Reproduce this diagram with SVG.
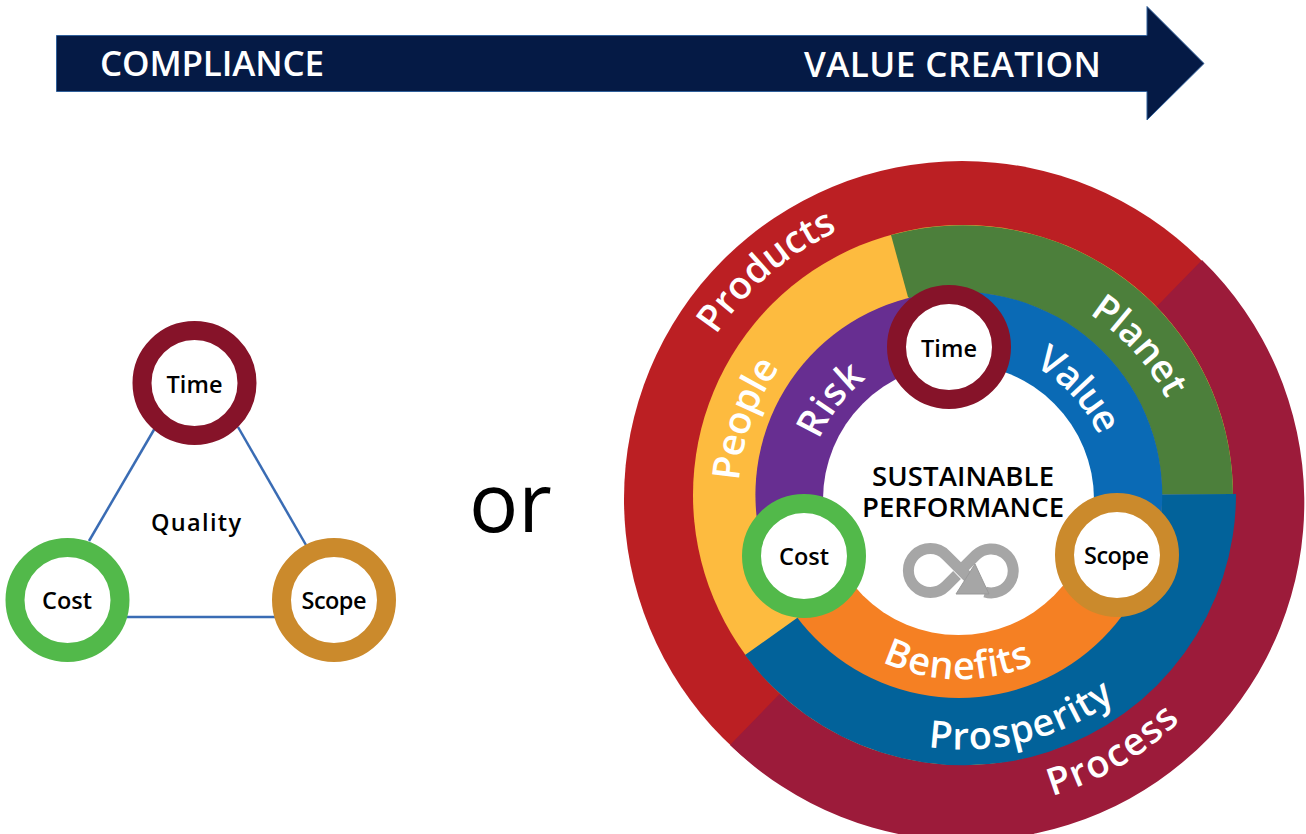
<svg xmlns="http://www.w3.org/2000/svg" width="1306" height="834" viewBox="0 0 1306 834">
<style>
text{font-family:"Open Sans","Liberation Sans",sans-serif}
.node{font-size:23.500px;font-weight:600;fill:#000;text-anchor:middle}
.band{font-size:38px;font-weight:600;fill:#fff}
.banner{font-size:35px;font-weight:600;fill:#fff}
.center{font-size:27.500px;font-weight:600;fill:#000;text-anchor:middle}
.ring{stroke-width:19;fill:#fff}
.conn{stroke:#3a6cb4;stroke-width:2.5;fill:none}
.inf{stroke:#a6a6a6;stroke-width:11;fill:none}
</style>
<defs>
<path id="pProducts" d="M716 335A295 295 0 0 1 838 231"/>
<path id="pPeople" d="M739 481A222 222 0 0 1 781 366"/>
<path id="pRisk" d="M819 440A152 152 0 0 1 866 379"/>
<path id="pValue" d="M1034 366A153 153 0 0 1 1099 436"/>
<path id="pPlanet" d="M1089 314A222 222 0 0 1 1167 400"/>
<path id="pBenefits" d="M882 662A184.500 184.500 0 0 0 1034 664"/>
<path id="pProsperity" d="M928 747A254 254 0 0 0 1117 698"/>
<path id="pProcess" d="M1052 796A311 311 0 0 0 1184 717"/>
</defs>
<g id="banner">
<path d="M56.500 35.500H1147V6.500L1204 63.500L1147 120V91.500H56.500Z" fill="#051a45" stroke="#2f5f9a" stroke-width="1"/>
<text class="banner" x="100" y="76" textLength="224">COMPLIANCE</text>
<text class="banner" x="804" y="77" textLength="297">VALUE CREATION</text>
</g>
<g id="connectors">
<line class="conn" x1="155" y1="428" x2="89" y2="541"/>
<line class="conn" x1="238" y1="427" x2="306" y2="545"/>
<line class="conn" x1="127" y1="617" x2="275" y2="617"/>
</g>
<g id="triangle-time"><circle class="ring" cx="194.500" cy="383" r="52.500" stroke="#861329"/><text class="node" x="194.500" y="392.500" textLength="56">Time</text></g>
<g id="triangle-cost"><circle class="ring" cx="67.500" cy="600" r="52.500" stroke="#52b94a"/><text class="node" x="67" y="608.500" textLength="50">Cost</text></g>
<g id="triangle-scope"><circle class="ring" cx="334" cy="600" r="52.500" stroke="#cb8a2c"/><text class="node" x="334" y="608.500" textLength="65">Scope</text></g>
<g id="quality"><text class="node" x="196" y="531" textLength="90">Quality</text></g>
<g id="or"><text x="469" y="532" font-size="82" fill="#000">or</text></g>
<g id="wheel">
<circle cx="962" cy="499" r="338" fill="#bb1f23"/>
<path d="M1202 260A338 338 0 0 1 730 745Z" fill="#9c1b3a"/>
<circle cx="963" cy="495" r="270" fill="#fdbb3f"/>
<path d="M891 235A270 270 0 0 1 1233 494L1162 494L908 297Z" fill="#4c7f3b"/>
<path d="M1236 494A272 271 0 0 1 745 655L797 618L960 495Z" fill="#02629a"/>
<circle cx="959" cy="495" r="203" fill="#f58023"/>
<path d="M949 292A203 203 0 0 1 1160 525L1117 555L959 495Z" fill="#0a6ab5"/>
<path d="M949 292A203 203 0 0 0 757 520L804 556L959 495Z" fill="#672e91"/>
<circle cx="958.500" cy="499.500" r="135.500" fill="#fff"/>
</g>
<g id="labels">
<text class="band"><textPath href="#pProducts" textLength="162">Products</textPath></text>
<text class="band"><textPath href="#pPeople" textLength="122">People</textPath></text>
<text class="band"><textPath href="#pRisk" textLength="78">Risk</textPath></text>
<text class="band"><textPath href="#pValue" textLength="97">Value</textPath></text>
<text class="band"><textPath href="#pPlanet" textLength="116">Planet</textPath></text>
<text class="band"><textPath href="#pBenefits" textLength="156">Benefits</textPath></text>
<text class="band"><textPath href="#pProsperity" textLength="198">Prosperity</textPath></text>
<text class="band"><textPath href="#pProcess" textLength="150">Process</textPath></text>
</g>
<g id="sustainable-performance">
<text class="center" x="963" y="486" textLength="182">SUSTAINABLE</text>
<text class="center" x="963" y="517" textLength="202">PERFORMANCE</text>
</g>
<g id="infinity">
<path class="inf" d="M957 575L946 586A22 22 0 1 1 946 555L978 587"/>
<path class="inf" d="M964 567L976 555A22 22 0 1 1 985 592"/>
<path d="M975 564L956 594H989Z" fill="#a6a6a6" stroke="#999" stroke-width="1"/>
</g>
<g id="wheel-time"><circle class="ring" cx="949" cy="347" r="52.500" stroke="#861329"/><text class="node" x="949" y="356.500" textLength="56">Time</text></g>
<g id="wheel-cost"><circle class="ring" cx="804" cy="556" r="52.500" stroke="#52b94a"/><text class="node" x="804" y="564.500" textLength="50">Cost</text></g>
<g id="wheel-scope"><circle class="ring" cx="1117" cy="555" r="52.500" stroke="#cb8a2c"/><text class="node" x="1116.500" y="563.500" textLength="65">Scope</text></g>
</svg>
